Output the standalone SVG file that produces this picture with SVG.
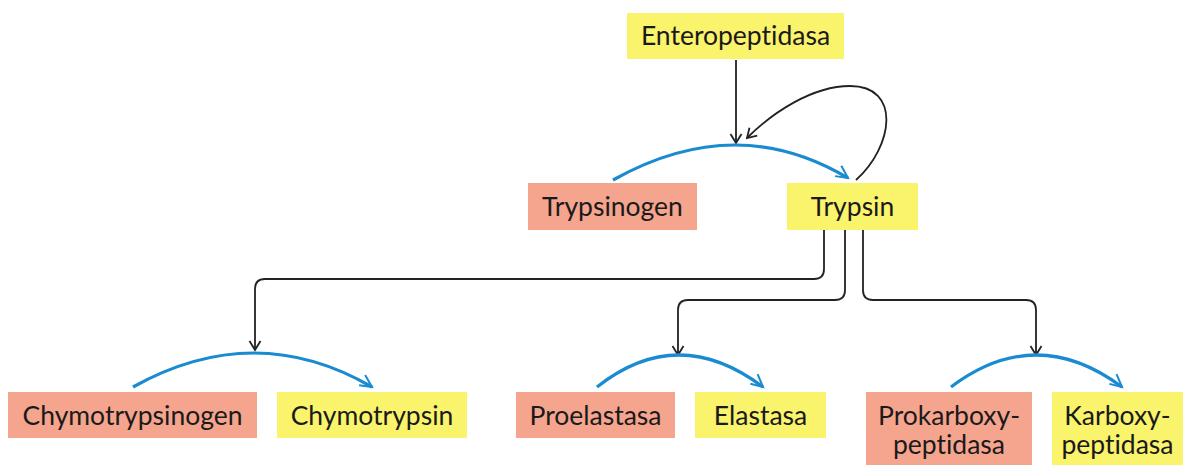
<svg xmlns="http://www.w3.org/2000/svg" width="1187" height="465" viewBox="0 0 1187 465">
<style>
.pro{fill:#f5a48e}
.act{fill:#faf36c}
text{font-family:Lato,"Open Sans",sans-serif;font-size:26.5px;fill:#1a1a1a;text-anchor:middle;font-variant-ligatures:none;font-feature-settings:"liga" 0,"dlig" 0}
.k{fill:none;stroke:#222;stroke-width:1.8}
.b{fill:none;stroke:#1a8bd0;stroke-width:3.2}
</style>
<defs>
<marker id="ak" markerUnits="userSpaceOnUse" markerWidth="20" markerHeight="20" refX="0" refY="0" viewBox="-12 -10 14 20" orient="auto" overflow="visible">
<path d="M-9,-5.5 L0,0 L-9,5.5" fill="none" stroke="#222" stroke-width="1.8"/>
</marker>
<marker id="ab" markerUnits="userSpaceOnUse" markerWidth="20" markerHeight="20" refX="0" refY="0" viewBox="-14 -10 16 20" orient="auto" overflow="visible">
<path d="M-12,-7 L0,0 L-12,5" fill="none" stroke="#1a8bd0" stroke-width="2"/>
</marker>
</defs>
<rect width="1187" height="465" fill="#fff"/>
<g id="connectors">
<path class="k" d="M736,60 V143" marker-end="url(#ak)"/>
<path class="k" d="M856,180 C893,147 902,86 850,86 C812,86 772,113 747,138" marker-end="url(#ak)"/>
<path class="k" d="M824,230 V269 Q824,279 814,279 H265 Q255,279 255,289 V350" marker-end="url(#ak)"/>
<path class="k" d="M845,230 V290 Q845,300 835,300 H688 Q678,300 678,310 V355" marker-end="url(#ak)"/>
<path class="k" d="M863,230 V290 Q863,300 873,300 H1026 Q1036,300 1036,310 V355" marker-end="url(#ak)"/>
<path class="b" d="M613,180 Q736,111 848,178" marker-end="url(#ab)"/>
<path class="b" d="M133,387 Q255,319 372,387" marker-end="url(#ab)"/>
<path class="b" d="M597,387 Q678,323 763,387" marker-end="url(#ab)"/>
<path class="b" d="M951,387 Q1036,323 1122,387" marker-end="url(#ab)"/>
</g>
<g id="enteropeptidasa"><rect class="act" x="627" y="13" width="217" height="46"/><text x="735.5" y="45">Enteropeptidasa</text></g>
<g id="trypsinogen"><rect class="pro" x="528" y="183" width="169" height="47"/><text x="612.5" y="216">Trypsinogen</text></g>
<g id="trypsin"><rect class="act" x="787" y="183" width="131" height="47"/><text x="852.5" y="216">Trypsin</text></g>
<g id="chymotrypsinogen"><rect class="pro" x="8" y="392" width="249" height="46"/><text x="132.5" y="425">Chymotrypsinogen</text></g>
<g id="chymotrypsin"><rect class="act" x="277" y="392" width="190" height="46"/><text x="372" y="425">Chymotrypsin</text></g>
<g id="proelastasa"><rect class="pro" x="516" y="392" width="159" height="46"/><text x="595.5" y="425">Proelastasa</text></g>
<g id="elastasa"><rect class="act" x="695" y="392" width="131" height="46"/><text x="760.5" y="425">Elastasa</text></g>
<g id="prokarboxypeptidasa"><rect class="pro" x="866" y="392" width="166" height="73"/><text x="949" y="425">Prokarboxy-</text><text x="949" y="454">peptidasa</text></g>
<g id="karboxypeptidasa"><rect class="act" x="1052" y="392" width="131" height="73"/><text x="1117.5" y="425">Karboxy-</text><text x="1117.5" y="454">peptidasa</text></g>
</svg>
